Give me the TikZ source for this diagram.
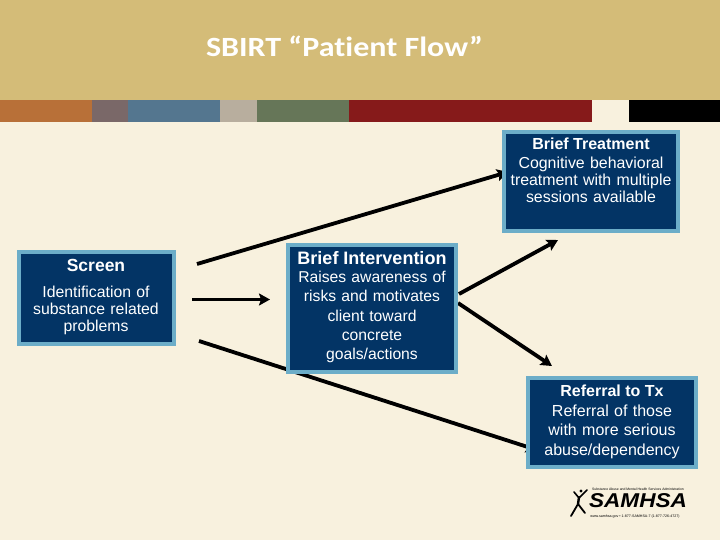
\documentclass[tikz,border=0pt]{standalone}
\usepackage{fontspec}
\setmainfont{Liberation Sans}
\newfontfamily\carlito[Ligatures=NoCommon]{Carlito}
\usetikzlibrary{arrows.meta}
\definecolor{bgcream}{HTML}{F8F1DE}
\definecolor{bandtan}{HTML}{D4BC78}
\definecolor{boxblue}{HTML}{033465}
\definecolor{boxedge}{HTML}{6CADC8}
\definecolor{sOrange}{HTML}{B87038}
\definecolor{sMauve}{HTML}{7A6868}
\definecolor{sBlue}{HTML}{54768F}
\definecolor{sGrey}{HTML}{B8AE9E}
\definecolor{sGreen}{HTML}{667658}
\definecolor{sRed}{HTML}{861A1A}
\tikzset{
  stripe/.style={fill=#1,draw=none},
  flowbox/.style={rectangle,draw=boxedge,line width=4pt,fill=boxblue,text=white,inner sep=0pt,anchor=north west},
  flow/.style={black,line width=3.8pt,-{Stealth[length=11pt,width=12pt,inset=2pt]}},
  head/.style={font=\fontsize{16}{18}\selectfont\bfseries,text=white},
  body/.style={text=white,align=center},
}
\begin{document}
\begin{tikzpicture}[x=1pt,y=-1pt]
\useasboundingbox (0,0) rectangle (720,540);
\fill[bgcream] (0,0) rectangle (720,540);
\fill[bandtan] (0,0) rectangle (720,100);
\fill[stripe=sOrange] (0,100) rectangle (92,122);
\fill[stripe=sMauve] (92,100) rectangle (128,122);
\fill[stripe=sBlue] (128,100) rectangle (220,122);
\fill[stripe=sGrey] (220,100) rectangle (257,122);
\fill[stripe=sGreen] (257,100) rectangle (349,122);
\fill[stripe=sRed] (349,100) rectangle (592,122);
\fill[black] (629,100) rectangle (720,122);
\node[text=white,font=\carlito\bfseries\fontsize{32}{34}\selectfont,scale=0.87] (title) at (344.5,46) {\scalebox{1.15}[1]{SBIRT “Patient Flow”}};

% free connector ends
\coordinate (a1) at (197,264); \coordinate (a2) at (508,172);
\coordinate (b1) at (192,299.5); \coordinate (b2) at (270,299.5);
\coordinate (c1) at (199,341); \coordinate (c2) at (537,450);
\coordinate (d1) at (459,294); \coordinate (d2) at (558,240);
\coordinate (e1) at (458,303); \coordinate (e2) at (552,366);

\draw[flow] (a1) -- (a2);
\draw[flow] (b1) -- (b2);
\draw[flow] (c1) -- (c2);
\draw[flow] (d1) -- (d2);
\draw[flow] (e1) -- (e2);

% boxes
\node[flowbox,minimum width=155pt,minimum height=92pt] (screen) at (17,250) {};
\node[flowbox,minimum width=168pt,minimum height=127pt] (interv) at (286,243) {};
\node[flowbox,minimum width=174pt,minimum height=99pt] (treat) at (502,130) {};
\node[flowbox,minimum width=168pt,minimum height=89pt] (refer) at (526,376) {};

\node[head] (t1) at (591,144) {Brief Treatment};
\node[body,text width=172pt,font=\fontsize{15.9}{17.3}\selectfont] (t2) at (591,180) {Cognitive behavioral\\treatment with multiple\\sessions available};
\node[head,font=\fontsize{17.5}{19}\selectfont\bfseries] (s1) at (96,265) {Screen};
\node[body,text width=150pt,font=\fontsize{15.8}{17.3}\selectfont] (s2) at (96,310.5) {Identification of\\substance related\\problems};
\node[head,font=\fontsize{18}{20}\selectfont\bfseries] (i1) at (372,258) {Brief Intervention};
\node[body,text width=165pt,font=\fontsize{15.7}{19.3}\selectfont] (i2) at (372,317) {Raises awareness of\\risks and motivates\\client toward\\concrete\\goals/actions};
\node[head] (r1) at (612,391) {Referral to Tx};
\node[body,text width=165pt,font=\fontsize{16}{19.6}\selectfont] (r2) at (612,431.5) {Referral of those\\with more serious\\abuse/dependency};

% SAMHSA logo
\node[font=\bfseries\itshape\fontsize{20}{22}\selectfont,text=black,inner sep=0pt,xscale=1.13] (logo) at (638,501) {SAMHSA};
\node[font=\fontsize{3.4}{4}\selectfont,text=black,inner sep=0pt] (logotop) at (638,489.5) {Substance Abuse and Mental Health Services Administration};
\node[font=\fontsize{3.6}{4}\selectfont,text=black,inner sep=0pt] (logobot) at (635,516.5) {www.samhsa.gov • 1-877-SAMHSA-7 (1-877-726-4727)};
\fill[black] (581,491) circle (1.7pt);
\draw[black,line width=1.6pt,line cap=round] (574,492) -- (579,498) -- (587,490);
\draw[black,line width=2.4pt,line cap=round] (579,497) -- (578,504);
\draw[black,line width=1.8pt,line cap=round] (578,504) -- (571,516);
\draw[black,line width=1.8pt,line cap=round] (578,504) -- (585,513);
\end{tikzpicture}
\end{document}
